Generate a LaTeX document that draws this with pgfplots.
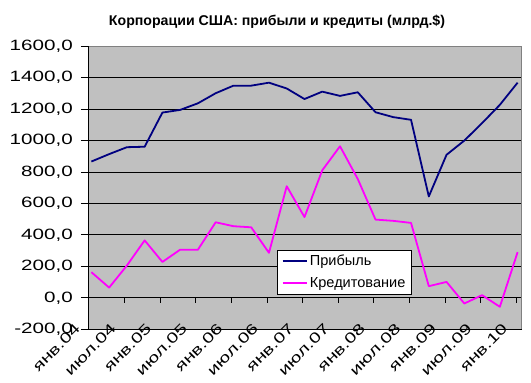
\documentclass[border=0pt]{standalone}
\usepackage{fontspec}
\setmainfont{Liberation Sans}
\newfontfamily\tickfont[FakeStretch=1.38]{Liberation Sans}
\usepackage{pgfplots}
\pgfplotsset{compat=1.18}
\definecolor{plotgray}{HTML}{C0C0C0}
\definecolor{bordergray}{HTML}{808080}
\definecolor{navy}{HTML}{000080}
\definecolor{mag}{HTML}{FF00FF}
\begin{document}
\begin{tikzpicture}
\path[use as bounding box] (0bp,0bp) rectangle (531bp,383bp);
\node[font=\bfseries\fontsize{14.2}{16}\selectfont, anchor=base] at (277bp,357bp) {Корпорации США: прибыли и кредиты (млрд.\$)};
\begin{axis}[
  at={(88bp,53.7bp)}, anchor=south west,
  scale only axis, width=433.5bp, height=283.3bp,
  xmin=-0.19, xmax=24.22, ymin=-200, ymax=1600,
  clip=false,
  axis background/.style={fill=plotgray},
  axis line style={bordergray, line width=0.8bp},
  ymajorgrids, grid style={black, line width=0.8bp},
  ytick={-200,0,...,1600},
  xtick={-0.135,1.87,3.875,5.88,7.885,9.89,11.895,13.9,15.905,17.91,19.915,21.92,23.925},
  xticklabels={янв.04,июл.04,янв.05,июл.05,янв.06,июл.06,янв.07,июл.07,янв.08,июл.08,янв.09,июл.09,янв.10},
  x tick style={draw=none},
  y tick style={black, line width=0.8bp},
  tick align=outside, ytick pos=left, xtick pos=bottom,
  major tick length=7bp,
  yticklabel style={font=\tickfont\fontsize{15}{17}\selectfont, anchor=east, inner sep=0pt, xshift=-8bp},
  xticklabel style={font=\tickfont\fontsize{14.5}{16}\selectfont, rotate=45, anchor=east, inner sep=0pt, xshift=-1bp, yshift=15bp},
  /pgf/number format/fixed, /pgf/number format/fixed zerofill,
  /pgf/number format/precision=1, /pgf/number format/use comma,
  /pgf/number format/1000 sep={}, /pgf/number format/assume math mode=true,
  legend style={at={(rel axis cs:0.4367,0.1235)}, anchor=south west, draw=black,
    line width=0.8bp, fill=white, font=\fontsize{14.6}{17}\selectfont,
    inner xsep=4bp, inner ysep=3bp, row sep=6bp},
  legend cell align=left,
  legend image code/.code={\draw[#1] (0bp,0bp) -- (24.4bp,0bp);},
]
\addplot[navy, line width=1.8bp, line join=round] coordinates {
(0,866) (1,913) (2,957) (3,960) (4,1177) (5,1194) (6,1236) (7,1300) (8,1348) (9,1348)
(10,1367) (11,1330) (12,1263) (13,1310) (14,1283) (15,1306) (16,1179) (17,1148) (18,1131)
(19,644) (20,909) (21,999) (22,1110) (23,1226) (24,1367)};
\addlegendentry{Прибыль}
\addplot[mag, line width=1.8bp, line join=round] coordinates {
(0,163) (1,65) (2,205) (3,365) (4,228) (5,306) (6,306) (7,480) (8,455) (9,448)
(10,286) (11,709) (12,513) (13,810) (14,963) (15,755) (16,497) (17,489) (18,476)
(19,74) (20,101) (21,-36) (22,17) (23,-57) (24,290)};
\addlegendentry{Кредитование}
\draw[black, line width=0.8bp] (rel axis cs:0,0) -- (rel axis cs:1,0);
\draw[black, line width=0.8bp] (rel axis cs:0,0) -- (rel axis cs:0,1);
\pgfplotsinvokeforeach{1.87,3.875,5.88,7.885,9.89,11.895,13.9,15.905,17.91,19.915,21.92,23.925}{
  \draw[black, line width=0.8bp] (axis cs:#1,0) -- ([yshift=-5.6bp]axis cs:#1,0);
}
\end{axis}
\end{tikzpicture}
\end{document}
